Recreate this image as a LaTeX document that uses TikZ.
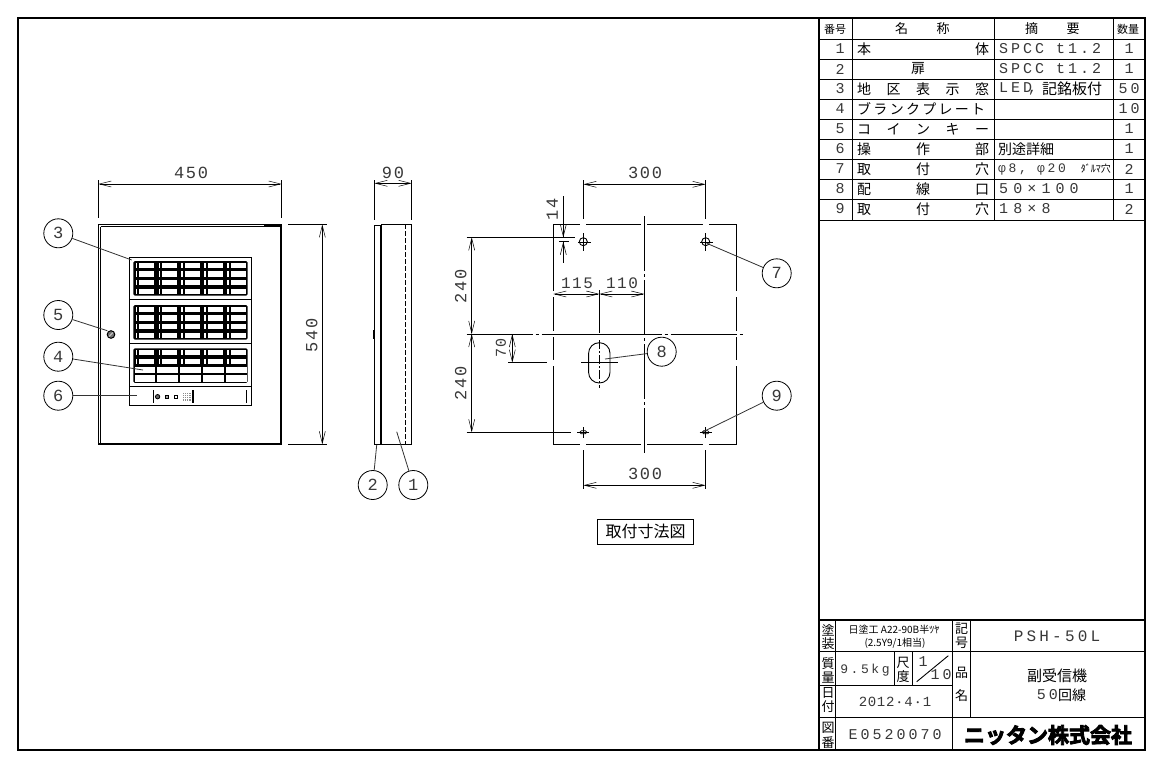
\documentclass[tikz,border=0pt]{standalone}
\usepackage{fontspec}
\usetikzlibrary{arrows.meta}
\setmainfont{Liberation Sans}
\newfontfamily\cjk{Noto Sans CJK JP}
\newfontfamily\cjklogo[FakeBold=4]{Noto Sans CJK JP Bold}
\newfontfamily\numf[LetterSpace=20]{Liberation Mono}
\newfontfamily\numd[LetterSpace=10]{Liberation Mono}
\newfontfamily\numw[LetterSpace=34]{Liberation Mono}
\newfontfamily\numn[LetterSpace=5]{Liberation Mono}
\definecolor{ink}{gray}{0.22}
\tikzset{
  thinl/.style={line width=0.9pt,black},
  frame/.style={line width=2.6pt,black},
  thick line/.style={line width=2.4pt,black},
  leaderl/.style={line width=0.8pt,black!80},
  dim/.style={line width=0.9pt,black,{Straight Barb[length=12pt,width=6pt,line width=0.5pt]}-{Straight Barb[length=12pt,width=6pt,line width=0.5pt]}},
  balloon/.style={circle,draw=black,line width=0.8pt,minimum size=29pt,inner sep=0pt,text=ink,font=\numn\fontsize{17}{17}\selectfont},
  dimtext/.style={text=ink,inner sep=0pt,font=\numd\fontsize{17}{17}\selectfont},
  tnum/.style={text=ink,inner sep=0pt,font=\numf\fontsize{15}{15}\selectfont},
  tjp/.style={text=black,inner sep=0pt,font=\cjk\fontsize{14}{14}\selectfont},
  tsm/.style={text=black,inner sep=0pt,font=\cjk\fontsize{13}{13}\selectfont},
  thead/.style={text=black,inner sep=0pt,font=\cjk\fontsize{11}{11}\selectfont},
  center line/.style={line width=0.9pt,black,dash pattern=on 55pt off 3pt on 3pt off 3pt},
  gap/.style={line width=1.6pt,white},
}
\begin{document}
\begin{tikzpicture}[x=1pt,y=-1pt]
\useasboundingbox (0,0) rectangle (1166,763);
\fill[white] (0,0) rectangle (1166,763);
% ---------- sheet frame ----------
\draw[frame] (18,18) rectangle (1145,750);
\draw[frame] (819,18) -- (819,750);
\draw[frame] (819,620) -- (1145,620);
% ---------- parts table ----------
\draw[thinl] (819,39) -- (1145,39);
\foreach \yy in {59,79,99,119,139,159,179,199,220} \draw[thinl] (819,\yy) -- (1145,\yy);
\foreach \xx in {852.3,994,1113.3} \draw[thinl] (\xx,18) -- (\xx,220);
\node[thead] (hno) at (835,29) {番号};
\node[tsm] (hn1) at (901.7,29) {名};
\node[tsm] (hn2) at (943,29) {称};
\node[tsm] (hd1) at (1031.7,29) {摘};
\node[tsm] (hd2) at (1073,29) {要};
\node[thead] (hq) at (1128,29) {数量};
\foreach \n/\q [count=\i from 0] in {1/1,2/1,3/50,4/10,5/1,6/1,7/2,8/1,9/2} {
  \node[tnum] (no\n) at (840,49+20*\i) {\n};
  \node[tnum] (qty\n) at (1129,49+20*\i) {\q};
}
\newcommand{\dist}[1]{\makebox[132pt][s]{#1}}
\node[tjp,anchor=west] (na1) at (857,49) {\dist{本\hfil 体}};
\node[tjp] (na2) at (918,69) {扉};
\node[tjp,anchor=west] (na3) at (857,89) {\dist{地\hfil 区\hfil 表\hfil 示\hfil 窓}};
\node[tjp,anchor=west] (na4) at (857,109) {\makebox[128pt][s]{ブ\hfil ラ\hfil ン\hfil ク\hfil プ\hfil レ\hfil ー\hfil ト}};
\node[tjp,anchor=west] (na5) at (857,129) {\dist{コ\hfil イ\hfil ン\hfil キ\hfil ー}};
\node[tjp,anchor=west] (na6) at (857,149) {\dist{操\hfil 作\hfil 部}};
\node[tjp,anchor=west] (na7) at (857,169) {\dist{取\hfil 付\hfil 穴}};
\node[tjp,anchor=west] (na8) at (857,189) {\dist{配\hfil 線\hfil 口}};
\node[tjp,anchor=west] (na9) at (857,209) {\dist{取\hfil 付\hfil 穴}};
\node[tnum,anchor=west] (de1) at (999,49) {SPCC  t1.2};
\node[tnum,anchor=west] (de2) at (999,69) {SPCC  t1.2};
\node[tnum,anchor=west] (de3a) at (999,89) {LED\kern-4pt,};
\node[tjp,anchor=west,font=\cjk\fontsize{15}{15}\selectfont] (de3b) at (1042,89) {記銘板付};
\node[tjp,anchor=west] (de6) at (998,149) {別途詳細};
\node[tnum,anchor=west] (de7a) at (998,169) {\fontsize{13}{13}\selectfont φ8, φ20};
\node[tsm,anchor=east] (de7b) at (1111,169) {\fontsize{10}{10}\selectfont ﾀﾞﾙﾏ穴};
\node[tnum,anchor=west,font=\numw\fontsize{15}{15}\selectfont] (de8) at (999,189) {50×100};
\node[tnum,anchor=west,font=\numw\fontsize{15}{15}\selectfont] (de9) at (999,209) {18×8};
% ---------- title block ----------
\draw[thinl] (819,651.7) -- (1145,651.7);
\draw[thinl] (819,685) -- (952.3,685);
\draw[thinl] (819,717.3) -- (1145,717.3);
\draw[thinl] (835.7,620) -- (835.7,750);
\draw[thinl] (952.3,620) -- (952.3,750);
\draw[thinl] (970,620) -- (970,717.3);
\draw[thinl] (894.3,651.7) -- (894.3,685);
\draw[thinl] (912.3,651.7) -- (912.3,685);
\draw[thinl] (916.7,681.7) -- (948.3,655.7);
\foreach \t/\xx/\yy/\nm in {塗/828/630/a1,装/828/644/a2,記/961.7/629/a3,号/961.7/643/a4,質/828/664/a5,量/828/678/a6,尺/903/663/a7,度/903/677/a8,品/961.7/673/a9,名/961.7/696/a10,日/828/693/a11,付/828/707/a12,図/828/728/a13,番/828/743/a14}
  \node[tsm] (tb\nm) at (\xx,\yy) {\t};
\node[inner sep=0pt,text=black,font=\cjk\fontsize{10}{10}\selectfont] (paint1) at (894,630) {日塗工 A22-90B半ﾂﾔ};
\node[inner sep=0pt,text=black,font=\cjk\fontsize{10}{10}\selectfont] (paint2) at (895,643) {(2.5Y9/1相当)};
\node[tnum,font=\numf\fontsize{16}{16}\selectfont] (model) at (1057,636.7) {PSH-50L};
\node[tnum] (mass) at (865,670) {\fontsize{13}{13}\selectfont 9.5kg};
\node[tnum] (sc1) at (923,661.7) {1};
\node[tnum] (sc2) at (941,675) {10};
\node[tjp,font=\cjk\fontsize{15}{15}\selectfont] (title1) at (1057,676) {副受信機};
\node[tnum,anchor=east] (title2a) at (1058,695) {50};
\node[tjp,anchor=west] (title2b) at (1058,695) {回線};
\node[tnum,font=\numn\fontsize{14}{14}\selectfont] (date) at (895,701.7) {2012{\cjk\fontsize{10}{10}\selectfont ・}4{\cjk\fontsize{10}{10}\selectfont ・}1};
\node[tnum] (dwg) at (895,735) {E0520070};
\node[inner sep=0pt,text=black,font=\cjklogo\fontsize{21}{21}\selectfont] (logo) at (1048,735) {ニッタン株式会社};
% ---------- front view ----------
\draw[line width=1pt] (98.3,224.3) rectangle (281.7,444.3);
\draw[line width=0.8pt] (100.7,226.7) -- (281.7,226.7);
\draw[line width=0.8pt] (100.7,226.7) -- (100.7,443);
\draw[line width=2pt] (264,225.3) -- (281.2,225.3) -- (281.2,444) -- (98.3,444);
\draw[thinl] (129.3,257.3) rectangle (251.7,405.7);
\foreach \yy in {299,343.3,386.7} \draw[thinl] (129.3,\yy) -- (251.7,\yy);
\foreach \gy/\nr in {261/4,305/4,348.3/2} {
  \fill[black,rounded corners=1.5pt] (133.3,\gy) rectangle ++(114.4,34.6);
  \foreach \cc in {0,...,4} \foreach \rr in {0,...,3} {
    \pgfmathsetmacro{\cx}{133.3+22.88*\cc}
    \pgfmathsetmacro{\cy}{\gy+8.65*\rr}
    \pgfmathtruncatemacro{\plain}{\rr>=\nr ? 1 : 0}
    \ifnum\plain=1
      \fill[white] (\cx+1.2,\cy+1.2) rectangle (\cx+21.9,\cy+7.6);
    \else
      \fill[white] (\cx+2.4,\cy+1.8) rectangle (\cx+4,\cy+7);
      \fill[white] (\cx+6,\cy+1.8) rectangle (\cx+21,\cy+7);
    \fi
  }
}
% key
\draw[black,fill=black!55,line width=1pt] (111,334.5) circle[radius=3.8];
\draw[white,line width=0.6pt] (109,336.5) -- (113,332.5);
% operating section
\draw[thinl] (153.3,390) -- (153.3,403.3);
\draw[black,fill=black!60,line width=0.8pt] (157.6,396.7) circle[radius=2.2];
\draw[black,fill=black!35,line width=1pt] (165,395) rectangle (168.4,398.4);
\draw[black,line width=1pt] (174.2,395) rectangle (177.6,398.4);
\fill[black!45] (183,392.5) rectangle (191,401);
\foreach \a in {184.5,186.5,188.5} \draw[white,line width=0.4pt] (\a,392.5) -- (\a,401);
\foreach \a in {394.5,396.5,398.5} \draw[white,line width=0.4pt] (183,\a) -- (191,\a);
\draw[thick line] (192.7,390) -- (192.7,403.3);
\draw[thinl] (246.7,390) -- (246.7,403.3);
% dimensions, front view
\draw[thinl] (98.3,180) -- (98.3,218.3);
\draw[thinl] (281.7,180) -- (281.7,218.3);
\draw[dim] (98.3,184) -- (281.7,184);
\node[dimtext] (d450) at (191,173) {450};
\draw[thinl] (288.3,224.3) -- (326.7,224.3);
\draw[thinl] (288.3,444.3) -- (326.7,444.3);
\draw[dim] (322.3,224.3) -- (322.3,444.3);
\node[dimtext,rotate=90] (d540) at (311.7,335) {540};
% balloons, front view
\node[balloon] (b3) at (58.3,233.3) {3};
\node[balloon] (b5) at (58.3,315) {5};
\node[balloon] (b4) at (58.3,356.7) {4};
\node[balloon] (b6) at (58.3,395.7) {6};
\coordinate (t3) at (131.7,260);
\coordinate (t5) at (107.3,330.7);
\coordinate (t4) at (143,370);
\coordinate (t6) at (136.7,395.7);
\draw[leaderl] (b3) -- (t3);
\draw[leaderl] (b5) -- (t5);
\draw[leaderl] (b4) -- (t4);
\draw[leaderl] (b6) -- (t6);
% ---------- side view ----------
\draw[thinl] (374.3,225.7) rectangle (381,444);
\draw[line width=1.4pt] (374.3,225.7) -- (381,225.7);
\draw[thinl] (381,224.3) rectangle (411.7,444.3);
\draw[thick line] (381,225) -- (381,444);
\draw[line width=1pt,dash pattern=on 5pt off 2pt] (405.7,224.3) -- (405.7,444.3);
\draw[line width=1.2pt] (373.4,330) -- (373.4,339);
\draw[thinl] (374.3,180) -- (374.3,220);
\draw[thinl] (411.7,180) -- (411.7,220);
\draw[dim] (374.3,183.3) -- (411.7,183.3);
\node[dimtext] (d90) at (393,173) {90};
\node[balloon] (b2) at (372.7,485) {2};
\node[balloon] (b1) at (413.3,485) {1};
\coordinate (t2) at (376.7,445);
\coordinate (t1) at (396.7,431.7);
\draw[leaderl] (b2) -- (t2);
\draw[leaderl] (b1) -- (t1);
% ---------- mounting view ----------
\draw[thinl] (553.3,224.3) rectangle (736.7,444.3);
\foreach \xx in {583.3,644.3,705.7} {
  \draw[gap] (\xx-3,224.3) -- (\xx+3,224.3);
  \draw[gap] (\xx-3,444.3) -- (\xx+3,444.3);
}
\foreach \yy in {294,334,362.7} {
  \draw[gap] (553.3,\yy-3) -- (553.3,\yy+3);
  \draw[gap] (736.7,\yy-3) -- (736.7,\yy+3);
}
\draw[center line] (644.3,216) -- (644.3,452.7);
\draw[line width=0.9pt,dash pattern=on 66pt off 3pt on 3pt off 3pt on 120pt off 3pt on 3pt off 3pt] (466.7,334) -- (745,334);
% holes
\draw[thinl] (583.3,241.7) circle[radius=4];
\draw[thinl] (705.7,241.7) circle[radius=4];
\draw[thinl] (583.3,233) -- (583.3,250.7);
\draw[thinl] (705.7,233) -- (705.7,250.7);
\draw[thinl] (578.3,242) -- (591,242);
\draw[thinl] (700,242) -- (713,242);
\foreach \xx in {583.3,705.7} {
  \draw[line width=0.7pt,rounded corners=1.4pt] (\xx-3.5,430.8) rectangle (\xx+3.5,433.8);
  \draw[line width=0.7pt] (\xx,427) -- (\xx,437.5);
  \draw[line width=0.7pt] (\xx-6,432.3) -- (\xx+6,432.3);
}
\draw[thinl,rounded corners=10.6pt] (588.6,342.7) rectangle (610,383);
\draw[thinl] (581,362.7) -- (618.3,362.7);
\draw[thinl,dash pattern=on 9pt off 2pt on 2pt off 2pt] (599.3,340) -- (599.3,388);
% dims, mounting view
\draw[thinl] (583.3,180) -- (583.3,219.3);
\draw[thinl] (705.7,180) -- (705.7,219.3);
\draw[dim] (583.3,184.3) -- (705.7,184.3);
\node[dimtext] (d300a) at (645,173) {300};
\draw[thinl] (583.3,450) -- (583.3,489.3);
\draw[thinl] (705.7,450) -- (705.7,489.3);
\draw[dim] (583.3,485.3) -- (705.7,485.3);
\node[dimtext] (d300b) at (645,474) {300};
% 14
\draw[thinl] (563.3,196) -- (563.3,237.3);
\draw[thinl] (563.3,241.7) -- (563.3,263.3);
\draw[thinl,-{Straight Barb[length=12pt,width=6pt,line width=0.5pt]}] (563.3,225) -- (563.3,237.3);
\draw[thinl,-{Straight Barb[length=12pt,width=6pt,line width=0.5pt]}] (563.3,254) -- (563.3,241.7);
\draw[thinl] (466.7,237.3) -- (575,237.3);
\draw[thinl] (559,241.7) -- (569.3,241.7);
\node[dimtext,rotate=90] (d14) at (552.3,209) {14};
% 240
\draw[dim] (471.7,237.3) -- (471.7,334);
\draw[dim] (471.7,334) -- (471.7,432.3);
\draw[thinl] (466.7,432.3) -- (570.7,432.3);
\node[dimtext,rotate=90] (d240a) at (460.7,286) {240};
\node[dimtext,rotate=90] (d240b) at (460.7,383.3) {240};
% 70
\draw[dim] (512.3,334) -- (512.3,362.7);
\draw[thinl] (508.3,362.7) -- (546.7,362.7);
\node[dimtext,rotate=90,font=\numn\fontsize{15}{15}\selectfont] (d70) at (501,348.3) {70};
% 115 / 110
\draw[dim] (553.3,294) -- (599.3,294);
\draw[dim] (599.3,294) -- (644.3,294);
\draw[thinl] (599.3,290) -- (599.3,333);
\node[dimtext,font=\numd\fontsize{16}{16}\selectfont] (d115) at (577,283.3) {115};
\node[dimtext,font=\numd\fontsize{16}{16}\selectfont] (d110) at (622,283.3) {110};
% balloons
\node[balloon] (b7) at (776.7,273.3) {7};
\node[balloon,fill=white] (b8) at (661.7,351.7) {8};
\node[balloon] (b9) at (776.7,395.7) {9};
\coordinate (t7) at (706.7,243.3);
\coordinate (t8) at (605,359);
\coordinate (t9) at (703.3,431.7);
\draw[leaderl] (b7) -- (t7);
\draw[leaderl] (b8) -- (t8);
\draw[leaderl] (b9) -- (t9);
\node[draw=black,line width=0.9pt,minimum width=95.6pt,minimum height=25pt,inner sep=0pt,text=black,font=\cjk\fontsize{16}{16}\selectfont] (caption) at (645.5,531.8) {取付寸法図};
\end{tikzpicture}
\end{document}
